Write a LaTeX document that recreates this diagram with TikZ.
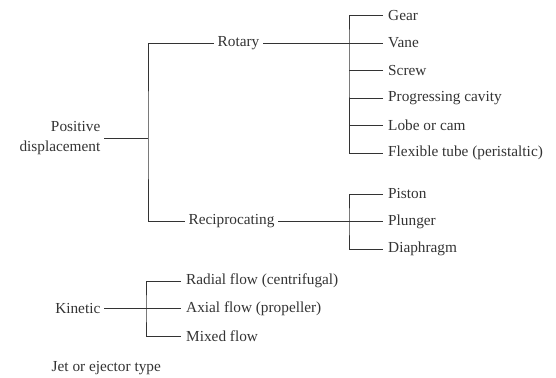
\documentclass[tikz,border=0pt]{standalone}
\usepackage{fontspec}
\setmainfont{Liberation Serif}
\usetikzlibrary{positioning}

\tikzset{
  lbl/.style={inner xsep=3.5pt, inner ysep=2pt, text=black!80, font=\fontsize{15.3}{20}\selectfont},
  leaf/.style={lbl, anchor=west, inner xsep=5pt},
  wire/.style={draw=black!80, line width=0.8pt}
}

\begin{document}
\begin{tikzpicture}[x=1pt, y=-1pt]
  \useasboundingbox (0,0) rectangle (556,377);

  % left column
  \node (pd) [lbl, anchor=east, align=right] at (104,138) {Positive\\displacement};
  \node (kin) [lbl, anchor=east] at (104,308.5) {Kinetic};
  \node (jet) [lbl, anchor=west] at (48,368) {Jet or ejector type};

  % second level
  \node (rot) [lbl, anchor=west] at (214,43) {Rotary};
  \node (rec) [lbl, anchor=west] at (185,221.5) {Reciprocating};

  % leaves
  \node (gear) [leaf] at (383,15.5) {Gear};
  \node (vane) [leaf, below=27.5pt of gear.west, anchor=west] {Vane};
  \node (screw) [leaf, below=27.5pt of vane.west, anchor=west] {Screw};
  \node (prog) [leaf, below=27.5pt of screw.west, anchor=west] {Progressing cavity};
  \node (lobe) [leaf, below=27.5pt of prog.west, anchor=west] {Lobe or cam};
  \node (flex) [leaf, below=27.5pt of lobe.west, anchor=west] {Flexible tube (peristaltic)};

  \node (piston) [leaf] at (383,194) {Piston};
  \node (plunger) [leaf, below=27.5pt of piston.west, anchor=west] {Plunger};
  \node (diaph) [leaf, below=27.5pt of plunger.west, anchor=west] {Diaphragm};

  \node (radial) [leaf] at (181,281) {Radial flow (centrifugal)};
  \node (axial) [leaf, below=27.5pt of radial.west, anchor=west] {Axial flow (propeller)};
  \node (mixed) [leaf, below=27.5pt of axial.west, anchor=west] {Mixed flow};

  % junctions
  \coordinate (pdj) at (148,138);
  \coordinate (rotj) at (349,43);
  \coordinate (recj) at (349,221.5);
  \coordinate (kinj) at (146,308.5);

  \draw[wire] (pd.east) -- (pdj);
  \draw[wire] (rot.west) -| (pdj) |- (rec.west);

  \draw[wire] (rot.east) -- (vane.west);
  \draw[wire] (gear.west) -| (rotj) |- (flex.west);
  \foreach \n in {screw, prog, lobe}
    \draw[wire] (\n.west) -- (\n.west -| rotj);

  \draw[wire] (rec.east) -- (plunger.west);
  \draw[wire] (piston.west) -| (recj) |- (diaph.west);

  \draw[wire] (kin.east) -- (axial.west);
  \draw[wire] (radial.west) -| (kinj) |- (mixed.west);
\end{tikzpicture}
\end{document}
